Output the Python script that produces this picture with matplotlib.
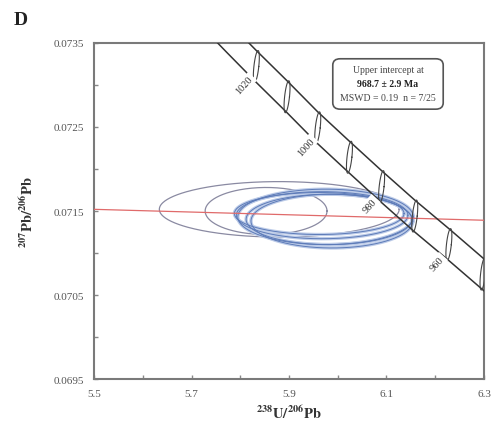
import matplotlib
matplotlib.use('Agg')
import matplotlib.pyplot as plt
from matplotlib.patches import FancyBboxPatch
import numpy as np

plt.rcParams['font.family'] = ['Liberation Serif', 'DejaVu Serif']
plt.rcParams['mathtext.fontset'] = 'stix'

# concordia age markers (Ma) and their positions
ages = [1040, 1030, 1020, 1010, 1000, 990, 980, 970, 960, 950, 940]
conc_x = [5.712, 5.772, 5.833, 5.896, 5.959, 6.024, 6.090, 6.158, 6.228, 6.298, 6.370]
conc_y = [0.07394, 0.07358, 0.07322, 0.07286, 0.07249, 0.07214, 0.07179, 0.07144, 0.07110, 0.07075, 0.07040]
band_half = 0.00019          # half width of decay-constant error band (207/206)
marker_ages = [1020, 1010, 1000, 990, 980, 970, 960, 950]
label_ages = [1020, 1000, 980, 960]

# discordia (regression) line end points
disc_x = [5.5, 6.3]
disc_y = [0.07152, 0.07139]

# error ellipses: centre x, centre y, half width, half height
grey_cx = [5.880, 5.853]
grey_cy = [0.07152, 0.07150]
grey_a = [0.246, 0.125]
grey_b = [0.00033, 0.00028]

blue_cx = [5.975, 5.982, 5.968, 5.988, 5.962]
blue_cy = [0.07143, 0.07140, 0.07145, 0.07138, 0.07147]
blue_a = [0.180, 0.170, 0.176, 0.166, 0.174]
blue_b = [0.00033, 0.00030, 0.00028, 0.00032, 0.00025]

fig = plt.figure(figsize=(4.93, 4.27), dpi=100)
ax = fig.add_axes([0.1907, 0.110, 0.791, 0.787])

t = np.linspace(0, 2 * np.pi, 300)

# grey ellipses
for cx, cy, a, b in zip(grey_cx, grey_cy, grey_a, grey_b):
    ax.plot(cx + a * np.cos(t), cy + b * np.sin(t), color='#8a8aa2', lw=0.9, zorder=2)

# blue ellipses
for cx, cy, a, b in zip(blue_cx, blue_cy, blue_a, blue_b):
    ax.plot(cx + a * np.cos(t), cy + b * np.sin(t), color='#bccbe8', lw=2.4, zorder=3)
for cx, cy, a, b in zip(blue_cx, blue_cy, blue_a, blue_b):
    ax.plot(cx + a * np.cos(t), cy + b * np.sin(t), color='#5d7bb8', lw=0.7, zorder=4)

# discordia
ax.plot(disc_x, disc_y, color='#e06a6a', lw=0.9, zorder=5)

# concordia band
cy_arr = np.array(conc_y)
ax.plot(conc_x, cy_arr + band_half, color='#333333', lw=1.1, zorder=6)
ax.plot(conc_x, cy_arr - band_half, color='#333333', lw=1.1, zorder=6)

# age markers
tt = np.linspace(0, 2 * np.pi, 100)
for age in marker_ages:
    i = ages.index(age)
    mx = conc_x[i] + 0.005 * np.cos(tt) + 0.0035 * np.sin(tt)
    my = conc_y[i] + band_half * np.sin(tt)
    ax.plot(mx, my, color='#444444', lw=0.8, zorder=7)

for age in label_ages:
    i = ages.index(age)
    ax.text(conc_x[i] - 0.024, conc_y[i] - band_half - 0.00003, str(age),
            rotation=48, fontsize=7.5, color='#333333', ha='center', va='center',
            bbox=dict(facecolor='white', edgecolor='none', pad=1.2), zorder=8)

ax.set_xlim(5.5, 6.3)
ax.set_ylim(0.0695, 0.0735)
ax.set_xticks([5.5, 5.7, 5.9, 6.1, 6.3])
ax.set_xticks(np.arange(5.5, 6.31, 0.1), minor=True)
ax.set_yticks([0.0695, 0.0705, 0.0715, 0.0725, 0.0735])
ax.set_yticks(np.arange(0.0695, 0.07351, 0.0005), minor=True)
ax.set_xticklabels(['5.5', '5.7', '5.9', '6.1', '6.3'])
ax.set_yticklabels(['0.0695', '0.0705', '0.0715', '0.0725', '0.0735'])
ax.tick_params(which='both', direction='in', length=3, width=1, color='#888888',
               labelsize=8, labelcolor='#555555', pad=7)
for s in ax.spines.values():
    s.set_color('#7a7a7a')
    s.set_linewidth(1.5)

ax.set_xlabel(r'$\mathbf{^{238}U/^{206}Pb}$', fontsize=10.5, color='#333333', labelpad=4)
ax.set_ylabel(r'$\mathbf{^{207}Pb/^{206}Pb}$', fontsize=10.5, color='#333333', labelpad=13)

# results box
box = FancyBboxPatch((0.675, 0.742), 0.224, 0.118, boxstyle='round,pad=0,rounding_size=0.015',
                     transform=fig.transFigure, facecolor='white', edgecolor='#555555', lw=1.2, zorder=10)
fig.patches.append(box)
fig.text(0.787, 0.836, 'Upper intercept at', fontsize=7, ha='center', va='center', color='#444444',
         zorder=11)
fig.text(0.787, 0.803, '968.7 ± 2.9 Ma', fontsize=7, ha='center', va='center', color='#222222',
         fontweight='bold', zorder=11)
fig.text(0.787, 0.770, 'MSWD = 0.19  n = 7/25', fontsize=7, ha='center', va='center', color='#444444',
         zorder=11)

fig.text(0.028, 0.953, 'D', fontsize=14, fontweight='bold', ha='left', va='center', color='#222222')

fig.savefig('out.png', dpi=100)
